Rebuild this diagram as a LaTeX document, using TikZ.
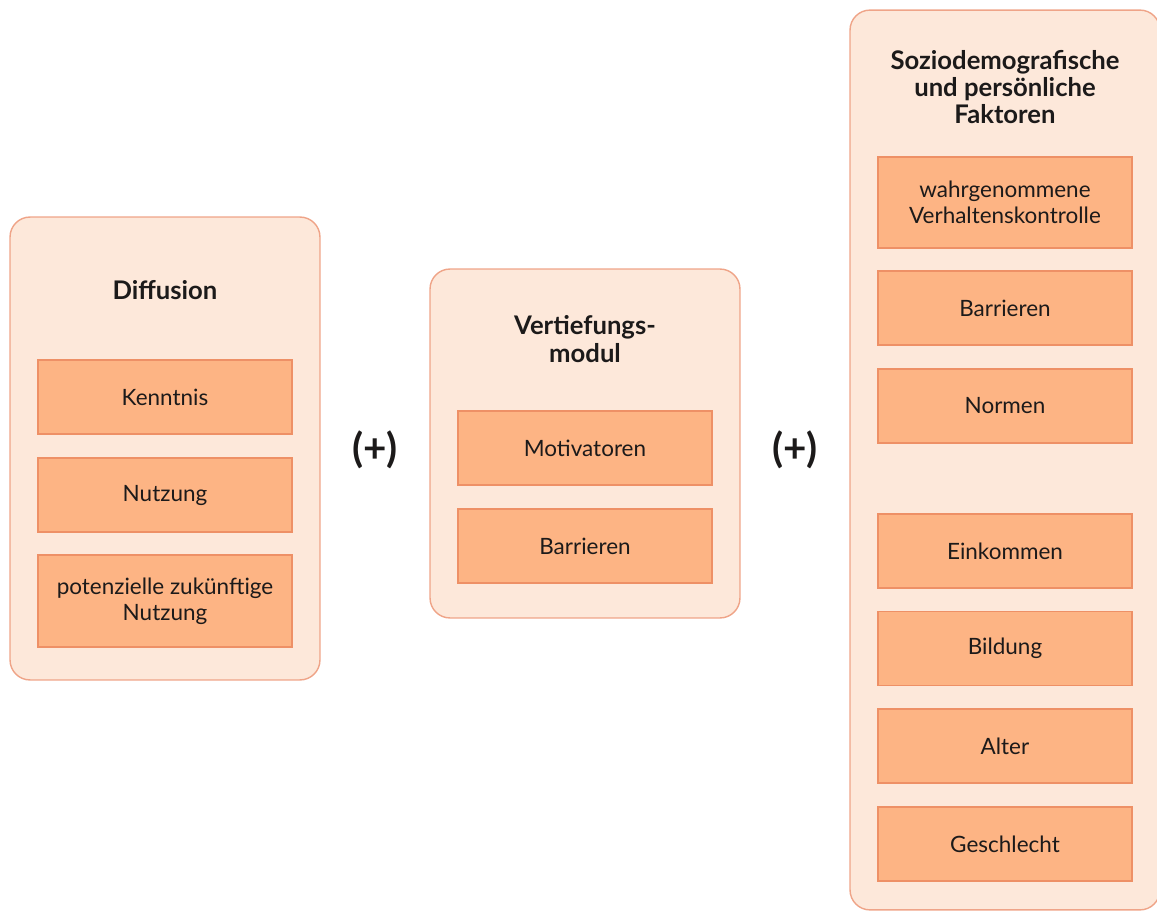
\documentclass[tikz,border=0pt]{standalone}
\usepackage{fontspec}
\setmainfont{Lato}
\usepackage{tikz}
\definecolor{panelfill}{HTML}{FDE8DA}
\definecolor{paneldraw}{HTML}{EFA488}
\definecolor{itemfill}{HTML}{FDB484}
\definecolor{itemdraw}{HTML}{EE9066}
\definecolor{inktext}{HTML}{1C1A1A}
\tikzset{
  panel/.style={draw=paneldraw, fill=panelfill, line width=0.8pt, rounded corners=0.4cm, minimum width=6.2cm},
  item/.style={draw=itemdraw, fill=itemfill, line width=0.8pt, minimum width=5.08cm, minimum height=1.48cm, text=inktext, align=center, font=\fontsize{12.8}{15}\selectfont},
  heading/.style={text=inktext, align=center, font=\bfseries\fontsize{14.6}{15.5}\selectfont},
  plus/.style={text=inktext, font=\bfseries\fontsize{23}{25}\selectfont}
}

\begin{document}
\begin{tikzpicture}[x=0.02cm, y=-0.02cm]
    \path[use as bounding box] (0, 0) rectangle (1157, 912);

    % Diffusion
    \node[panel, minimum height=9.26cm] at (165, 448.5) (diff) {};
    \node[heading] at (165, 290) (diffhead) {Diffusion};
    \node[item] at (165, 397) (kenntnis) {Kenntnis};
    \node[item] at (165, 495) (nutzung) {Nutzung};
    \node[item, minimum height=1.84cm] at (165, 601) (zukunft) {potenzielle zukünftige\\Nutzung};

    \node[plus] at (375, 450) (plusA) {(+)};

    % Vertiefungsmodul
    \node[panel, minimum height=6.98cm] at (585, 443.5) (vert) {};
    \node[heading] at (585, 339) (verthead) {Vertiefungs-\\modul};
    \node[item] at (585, 448) (motiv) {Motivatoren};
    \node[item] at (585, 546) (barrA) {Barrieren};

    \node[plus] at (795, 450) (plusB) {(+)};

    % Soziodemografische und persoenliche Faktoren
    \node[panel, minimum height=18cm] at (1005, 460) (sozio) {};
    \node[heading] at (1005, 87) (soziohead) {Soziodemografische\\und persönliche\\Faktoren};
    \node[item, minimum height=1.82cm] at (1005, 202.5) (kontrolle) {wahrgenommene\\Verhaltenskontrolle};
    \node[item] at (1005, 308) (barrB) {Barrieren};
    \node[item] at (1005, 406) (normen) {Normen};
    \node[item] at (1005, 551) (einkommen) {Einkommen};
    \node[item] at (1005, 648.5) (bildung) {Bildung};
    \node[item] at (1005, 746) (alter) {Alter};
    \node[item] at (1005, 844) (geschlecht) {Geschlecht};
\end{tikzpicture}
\end{document}
